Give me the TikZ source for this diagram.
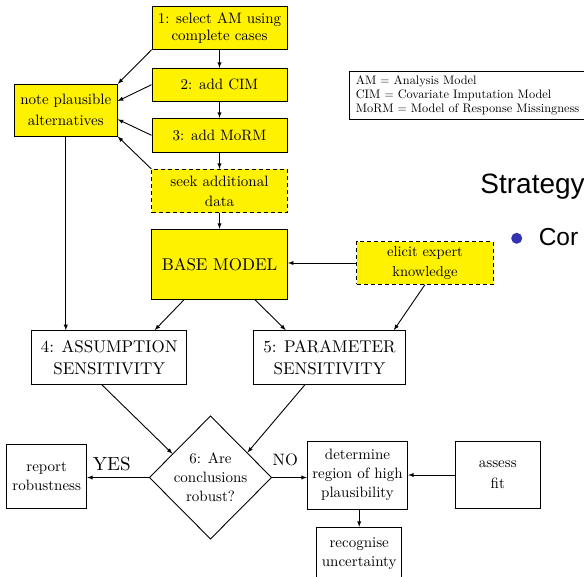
\documentclass[tikz,border=0pt]{standalone}
\usepackage{fontspec}
\usetikzlibrary{shapes,arrows}
\setmainfont{lmroman10-regular}[Extension=.otf, BoldFont=lmroman10-bold, ItalicFont=lmroman10-italic]
\newfontfamily\slidefont{Liberation Sans}
\definecolor{slideblue}{RGB}{51,51,178}

\begin{document}
\begin{tikzpicture}[x=1pt, y=-1pt, >=latex, line width=0.9pt,
    box/.style={draw, align=center, inner sep=3pt, font=\fontsize{15}{19}\selectfont},
    stage/.style={box, fill=yellow},
    dashbox/.style={stage, dash pattern=on 4pt off 3pt},
    bigtext/.style={font=\fontsize{17}{21.5}\selectfont}]
  \path [use as bounding box, clip] (0,0) rectangle (584,577);
  % main column
  \draw node [stage, minimum width = 135pt, minimum height = 42.7pt, font=\fontsize{15}{17}\selectfont] (select) at (219.5,28) {1: select AM using\\complete cases};
  \draw node [stage, minimum width = 135pt, minimum height = 32.7pt, node distance = 56.7pt, below of=select] (addcim) {2: add CIM};
  \draw node [stage, minimum width = 135pt, minimum height = 34pt, node distance = 50.6pt, below of=addcim] (addmorm) {3: add MoRM};
  \draw node [dashbox, minimum width = 135.5pt, minimum height = 43.3pt, node distance = 55.7pt, below of=addmorm, font=\fontsize{15}{20}\selectfont] (seek) {seek additional\\data};
  \draw node [stage, bigtext, minimum width = 136pt, minimum height = 70pt, node distance = 73.3pt, below of=seek] (base) {BASE MODEL};
  \draw node [stage, minimum width = 103pt, minimum height = 51.7pt, font=\fontsize{15}{21}\selectfont] (note) at (65.8,110.2) {note plausible\\alternatives};
  \draw node [dashbox, minimum width = 136.7pt, minimum height = 42.3pt, font=\fontsize{14.5}{20.5}\selectfont] (elicit) at (425,263) {elicit expert\\knowledge};
  %\draw node (legend) ...
  \draw node [draw, anchor=north west, align=left, inner xsep=6.5pt, minimum height=48pt, line width=0.7pt, font=\fontsize{12.3}{14.3}\selectfont] (legend) at (349,71) {AM $=$ Analysis Model\\CIM $=$ Covariate Imputation Model\\MoRM $=$ Model of Response Missingness};
  % sensitivity
  \draw node [box, bigtext, minimum width = 155pt, minimum height = 53.7pt] (assum) at (109.2,357.5) {4: ASSUMPTION\\SENSITIVITY};
  \draw node [box, bigtext, minimum width = 152.4pt, minimum height = 53.7pt] (param) at (329.5,357.5) {5: PARAMETER\\SENSITIVITY};
  \draw node [box, diamond, aspect=1, inner sep=0pt, minimum width = 122.4pt, minimum height = 123.3pt] (robust) at (210.5,477.5) {6: Are\\conclusions\\robust?};
  \draw node [box, minimum width = 80pt, minimum height = 64pt] (report) at (46.7,476.3) {report\\robustness};
  \draw node [box, minimum width = 100.4pt, minimum height = 68pt] (region) at (357.5,475) {determine\\region of high\\plausibility};
  \draw node [box, minimum width = 84.3pt, minimum height = 67.7pt, node distance = 140.3pt, right of=region, font=\fontsize{15}{21}\selectfont] (fit) {assess\\fit};
  \draw node [box, minimum width = 85pt, minimum height = 52pt] (uncert) at (359.2,553.3) {recognise\\uncertainty};
  % slide behind
  \node [anchor=base west, inner sep=0pt, font=\slidefont\fontsize{28}{34}\selectfont] (strategy) at (480,194) {Strategy};
  \fill [slideblue] (516.7,238.3) circle (5.5pt);
  \node [anchor=base west, inner sep=0pt, font=\slidefont\fontsize{24.5}{29}\selectfont] (cor) at (538.3,246) {Cor};
  % arrows
  \draw [->] (select) -- (addcim);
  \draw [->] (addcim) -- (addmorm);
  \draw [->] (addmorm) -- (seek);
  \draw [->] (seek) -- (base);
  \draw [->] (select.south west) -- (note.north east);
  \draw [->] (addcim.west) -- (note.10);
  \draw [->] (addmorm.west) -- (note.-10);
  \draw [->] (seek.north west) -- (note.south east);
  \draw [->] (note) -- (note |- assum.north);
  \draw [->] (base.225) -- (assum.31);
  \draw [->] (base.-45) -- (param.148);
  \draw [->] (elicit.west) -- (elicit.west -| base.east);
  \draw [->] (elicit.south) -- (param.23);
  \draw [->] (assum.255) -- (robust.148);
  \draw [->] (param.228) -- (robust.34);
  \draw [->] (robust.west) -- (robust.west -| report.east) node [above=3pt, pos=0.6, font=\fontsize{19}{22}\selectfont] (yes) {YES};
  \draw [->] (robust.east) -- (robust.east -| region.west) node [above=7.5pt, pos=0.38, font=\fontsize{16.5}{20}\selectfont] (no) {NO};
  \draw [->] (fit.west) -- (fit.west -| region.east);
  \draw [->] (region.south -| uncert.north) -- (uncert.north);
\end{tikzpicture}
\end{document}
